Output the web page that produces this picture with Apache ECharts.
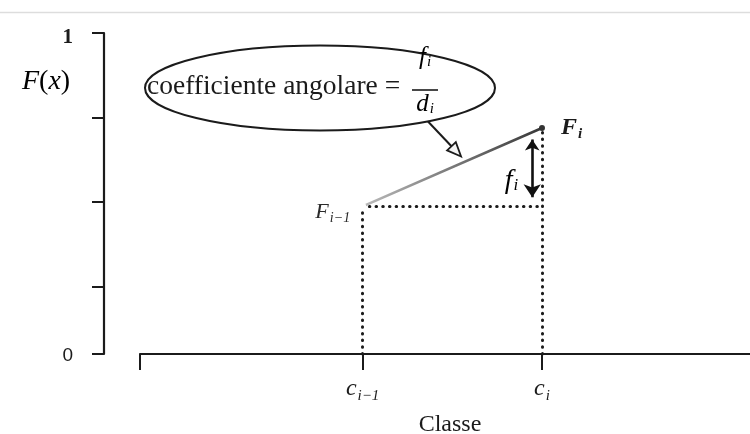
<!DOCTYPE html>
<html>
<head>
<meta charset="utf-8">
<script src="https://cdn.jsdelivr.net/npm/echarts@6/dist/echarts.min.js"></script>
<style>
  html, body { margin: 0; padding: 0; background: #ffffff; }
  #chart { width: 750px; height: 434px; }
</style>
</head>
<body>
<div id="chart"></div>
<script>
// Class boundaries c_{i-1} and c_i on the "Classe" axis
const classBounds = [36.5, 65.9];
// Subscripts written under the two boundaries
const classSubs = ['i−1', 'i'];
// Cumulative frequencies F_{i-1} and F_i at those boundaries
const cumFreq = [0.46, 0.704];
// Tick marks on the F(x) axis; only the two ends are labelled
const yTicks = [0, 0.209, 0.474, 0.735, 1];
const yLabels = [0, 1];
// Extent of the class axis
const xRange = [0, 100];

const SERIF = '"Liberation Serif", "DejaVu Serif", serif';
const SANS = '"Liberation Sans", "DejaVu Sans", sans-serif';
const INK = '#1b1b1b';

function face(size, extra) {
  return Object.assign({ fontFamily: SERIF, fontStyle: 'italic', fontSize: size, color: INK }, extra || {});
}

const chart = echarts.init(document.getElementById('chart'), null, { renderer: 'canvas' });

const [c0, c1] = classBounds;
const [F0, F1] = cumFreq;

const option = {
  animation: false,
  backgroundColor: '#ffffff',
  grid: { left: 140, right: 0, top: 33, bottom: 80, containLabel: false, outerBoundsMode: 'none' },
  xAxis: {
    type: 'value',
    min: xRange[0],
    max: xRange[1],
    name: 'Classe',
    nameLocation: 'middle',
    nameGap: 59,
    nameTextStyle: { fontFamily: SERIF, fontSize: 24, color: INK, padding: [0, 0, 0, 10] },
    axisLine: { show: true, onZero: false, lineStyle: { color: INK, width: 2.2 } },
    axisTick: { show: true, length: 16, customValues: [xRange[0]].concat(classBounds), lineStyle: { color: INK, width: 2 } },
    axisLabel: {
      show: true,
      customValues: classBounds,
      margin: 21,
      formatter: v => '{b|c}{s|' + classSubs[classBounds.indexOf(v)] + '}',
      rich: {
        b: face(24, { lineHeight: 28, verticalAlign: 'middle' }),
        s: face(15, { lineHeight: 15, padding: [14, 0, 0, 1], verticalAlign: 'top' })
      }
    },
    splitLine: { show: false }
  },
  yAxis: {
    type: 'value',
    min: 0,
    max: 1,
    offset: 36,
    axisLine: { show: true, onZero: false, lineStyle: { color: INK, width: 2.2 } },
    axisTick: { show: true, length: 12, customValues: yTicks, lineStyle: { color: INK, width: 2 } },
    axisLabel: {
      show: true,
      customValues: yLabels,
      margin: 31,
      formatter: v => (v === 1 ? '{one|1}' : '{zero|0}'),
      rich: {
        one: { fontFamily: SERIF, fontSize: 21, fontWeight: 'bold', color: INK, padding: [10, 0, 0, 0] },
        zero: { fontFamily: SANS, fontSize: 19, color: INK, padding: [3, 0, 0, 0] }
      }
    },
    splitLine: { show: false }
  },
  series: [
    {
      // dotted guides from the two points down to the axis and across
      type: 'lines',
      coordinateSystem: 'cartesian2d',
      silent: true,
      symbol: 'none',
      lineStyle: { color: INK, width: 3, type: [0.5, 6.2], cap: 'round', opacity: 1 },
      data: [
        { coords: [[c0, 0], [c0, F0]] },
        { coords: [[c0, F0], [c1, F0]] },
        { coords: [[c1, 0], [c1, F1]] }
      ],
      z: 2
    },
    {
      // segment of the cumulative frequency polygon
      type: 'line',
      data: [
        {
          value: [c0, F0],
          symbol: 'emptyCircle',
          symbolSize: 5,
          itemStyle: { color: '#ffffff', borderColor: '#9a9a9a', borderWidth: 1.5 },
          label: {
            show: true, position: 'left', distance: 9, offset: [0, 6],
            formatter: '{b|F}{s|i−1}',
            rich: {
              b: face(22, { color: '#2a2a2a', lineHeight: 24 }),
              s: face(14, { color: '#2a2a2a', lineHeight: 14, padding: [11, 0, 0, 1], verticalAlign: 'top' })
            }
          }
        },
        {
          value: [c1, F1],
          symbol: 'circle',
          symbolSize: 6,
          itemStyle: { color: '#333333' },
          label: {
            show: true, position: 'right', distance: 16, offset: [0, 0],
            formatter: '{b|F}{s|i}',
            rich: {
              b: face(24, { fontWeight: 'bold', lineHeight: 26 }),
              s: face(15, { fontWeight: 'bold', lineHeight: 15, padding: [12, 0, 0, 1], verticalAlign: 'top' })
            }
          }
        }
      ],
      lineStyle: {
        width: 2.6,
        color: {
          type: 'linear', x: 0, y: 0, x2: 1, y2: 0,
          colorStops: [{ offset: 0, color: '#bdbdbd' }, { offset: 1, color: '#363636' }]
        }
      },
      z: 3
    },
    {
      // double arrow marking the class frequency f_i
      type: 'lines',
      coordinateSystem: 'cartesian2d',
      silent: true,
      symbol: ['arrow', 'arrow'],
      symbolSize: [11, 13],
      lineStyle: { color: '#111111', width: 2.6, opacity: 1 },
      data: [{ coords: [[c1 - 1.6, F1 - 0.036], [c1 - 1.6, F0 + 0.028]] }],
      z: 3
    }
  ]
};

chart.setOption(option);

// Callout ellipse with the slope formula
const ell = { cx: 320, cy: 88, rx: 175, ry: 42.5 };

// Pointer from the ellipse to the segment
const tSeg = 0.56;
const onSeg = chart.convertToPixel({ gridIndex: 0 }, [c0 + tSeg * (c1 - c0), F0 + tSeg * (F1 - F0)]);
const startX = 428;
const startY = ell.cy + ell.ry * Math.sqrt(1 - Math.pow((startX - ell.cx) / ell.rx, 2));
const tip = [onSeg[0] - 2, onSeg[1] - 6];
const ang = Math.atan2(tip[1] - startY, tip[0] - startX);
const headLen = 14, headHalf = 6;
const bx = tip[0] - headLen * Math.cos(ang), by = tip[1] - headLen * Math.sin(ang);
const nx = -Math.sin(ang), ny = Math.cos(ang);

// Label of the double arrow
const fArrowMid = chart.convertToPixel({ gridIndex: 0 }, [c1 - 1.6, (F0 + F1) / 2]);

chart.setOption({
  graphic: [
    { type: 'line', shape: { x1: 0, y1: 12.5, x2: 750, y2: 12.5 }, style: { stroke: '#dddddd', lineWidth: 1.5 }, silent: true },
    { type: 'ellipse', shape: ell, style: { fill: 'none', stroke: INK, lineWidth: 2 }, silent: true },
    {
      type: 'text', x: 147, y: 87, silent: true,
      style: { text: 'coefficiente angolare =', fontFamily: SERIF, fontSize: 27.5, fill: INK, verticalAlign: 'middle', align: 'left' }
    },
    {
      type: 'text', x: 425, y: 57, silent: true,
      style: {
        text: '{b|f}{s|i}', align: 'center', verticalAlign: 'middle',
        rich: { b: face(25, { lineHeight: 28 }), s: face(15, { lineHeight: 15, padding: [12, 0, 0, 1], verticalAlign: 'top' }) }
      }
    },
    { type: 'line', shape: { x1: 412, y1: 90, x2: 438, y2: 90 }, style: { stroke: INK, lineWidth: 1.6 }, silent: true },
    {
      type: 'text', x: 425, y: 104, silent: true,
      style: {
        text: '{b|d}{s|i}', align: 'center', verticalAlign: 'middle',
        rich: { b: face(25, { lineHeight: 28 }), s: face(15, { lineHeight: 15, padding: [12, 0, 0, 1], verticalAlign: 'top' }) }
      }
    },
    {
      type: 'text', x: 22, y: 82, silent: true,
      style: {
        text: '{b|F}{p|(}{b|x}{p|)}', align: 'left', verticalAlign: 'middle',
        rich: { b: face(28, { lineHeight: 32 }), p: { fontFamily: SERIF, fontSize: 28, color: INK, lineHeight: 32 } }
      }
    },
    {
      type: 'text', x: fArrowMid[0] - 14, y: fArrowMid[1] + 13, silent: true,
      style: {
        text: '{b|f}{s|i}', align: 'right', verticalAlign: 'middle',
        rich: { b: face(28, { lineHeight: 32 }), s: face(17, { lineHeight: 17, padding: [13, 0, 0, 1], verticalAlign: 'top' }) }
      }
    },
    { type: 'line', shape: { x1: startX, y1: startY, x2: bx, y2: by }, style: { stroke: INK, lineWidth: 2 }, silent: true },
    {
      type: 'polygon', silent: true,
      shape: { points: [tip, [bx + nx * headHalf, by + ny * headHalf], [bx - nx * headHalf, by - ny * headHalf]] },
      style: { fill: '#f4f4f4', stroke: INK, lineWidth: 1.8, lineJoin: 'miter' }
    }
  ]
});
</script>
</body>
</html>
